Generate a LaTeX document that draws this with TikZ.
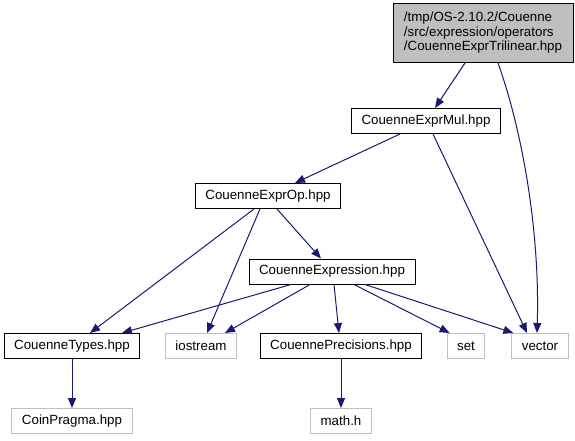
\documentclass[tikz,border=0pt]{standalone}
\usepackage{fontspec}
\setmainfont{Liberation Sans}
\usetikzlibrary{arrows.meta}
\definecolor{edgeblue}{HTML}{191970}
\definecolor{boxgray}{HTML}{BFBFBF}

\begin{document}
\begin{tikzpicture}[x=1pt,y=-1pt,
    filebox/.style={draw=black,line width=0.035cm,fill=white,inner xsep=10pt,inner ysep=0pt,minimum height=25pt},
    sysbox/.style={filebox,draw=boxgray},
    incl/.style={draw=edgeblue,line width=0.035cm,-{Triangle[length=10pt,width=8pt]}}]
                        \useasboundingbox (0,0) rectangle (575,440);
                        {\fontsize{13.33}{14.5}\selectfont

                        % Marking node CouenneExprTrilinear.hpp
                        \node [filebox,fill=boxgray,align=left,minimum width=180pt,minimum height=59pt] (trilinear) at (483.000000,33.000000) {/tmp/OS-2.10.2/Couenne\\/src/expression/operators\\/CouenneExprTrilinear.hpp};%

                        % Marking node CouenneExprMul.hpp
                        \node [filebox] (exprmul) at (426.000000,121.000000) {CouenneExprMul.hpp};%

                        % Marking node CouenneExprOp.hpp
                        \node [filebox] (exprop) at (268.000000,196.000000) {CouenneExprOp.hpp};%

                        % Marking node CouenneExpression.hpp
                        \node [filebox] (expression) at (332.000000,271.500000) {CouenneExpression.hpp};%

                        % Marking nodes of the fourth rank
                        \node [filebox] (types) at (72.000000,346.000000) {CouenneTypes.hpp};%
                        \node [sysbox] (iostream) at (201.000000,346.000000) {iostream};%
                        \node [filebox] (precisions) at (341.000000,346.000000) {CouennePrecisions.hpp};%
                        \node [sysbox] (set) at (466.000000,346.000000) {set};%
                        \node [sysbox] (vector) at (540.000000,346.000000) {vector};%

                        % Marking nodes of the last rank
                        \node [sysbox] (coinpragma) at (72.000000,421.000000) {CoinPragma.hpp};%
                        \node [sysbox] (mathh) at (341.000000,421.000000) {math.h};%

                        % Drawing includes of CouenneExprTrilinear.hpp
                        \draw [incl] ([xshift=-18pt]trilinear.south) -- ([xshift=9pt]exprmul.north);%
                        \draw [incl] ([xshift=15pt]trilinear.south) .. controls (522.000000,130.000000) and (540.000000,230.000000) .. ([xshift=-3pt]vector.north);%

                        % Drawing includes of CouenneExprMul.hpp
                        \draw [incl] ([xshift=-26pt]exprmul.south) -- ([xshift=27pt]exprop.north);%
                        \draw [incl] ([xshift=7pt]exprmul.south) -- ([xshift=-13pt]vector.north);%

                        % Drawing includes of CouenneExprOp.hpp
                        \draw [incl] ([xshift=-14pt]exprop.south) -- ([xshift=18pt]types.north);%
                        \draw [incl] ([xshift=-8pt]exprop.south) -- ([xshift=6pt]iostream.north);%
                        \draw [incl] ([xshift=9pt]exprop.south) -- ([xshift=-11pt]expression.north);%

                        % Drawing includes of CouenneExpression.hpp
                        \draw [incl] ([xshift=-41pt]expression.south) -- ([xshift=50pt]types.north);%
                        \draw [incl] ([xshift=-22pt]expression.south) -- ([xshift=24pt]iostream.north);%
                        \draw [incl] ([xshift=2pt]expression.south) -- ([xshift=-2pt]precisions.north);%
                        \draw [incl] ([xshift=22pt]expression.south) -- ([xshift=3pt]set.north west);%
                        \draw [incl] ([xshift=33pt]expression.south) -- ([xshift=2pt]vector.north west);%

                        % Drawing includes of the fourth rank
                        \draw [incl] (types) -- (coinpragma);%
                        \draw [incl] (precisions) -- (mathh);%
                        }
\end{tikzpicture}
\end{document}
